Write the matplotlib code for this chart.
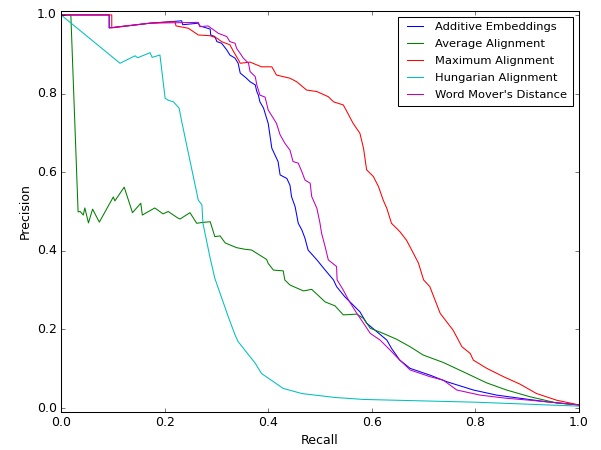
import matplotlib
matplotlib.use('Agg')
import matplotlib.pyplot as plt

# Additive Embeddings
add_recall = [0.0, 0.093, 0.093, 0.172, 0.233, 0.235, 0.265, 0.268, 0.288, 0.289, 0.297, 0.301,
              0.31, 0.32, 0.326, 0.336, 0.342, 0.346, 0.358, 0.365, 0.375, 0.378, 0.381, 0.384,
              0.391, 0.397, 0.4, 0.407, 0.413, 0.419, 0.423, 0.436, 0.442, 0.445, 0.452, 0.458,
              0.465, 0.471, 0.477, 0.494, 0.51, 0.526, 0.532, 0.548, 0.561, 0.577, 0.59, 0.629,
              0.638, 0.654, 0.674, 0.712, 0.745, 0.796, 0.841, 0.886, 0.938, 1.0]
add_prec = [1.0, 1.0, 0.967, 0.979, 0.985, 0.975, 0.979, 0.972, 0.964, 0.949, 0.945, 0.932,
            0.928, 0.911, 0.898, 0.89, 0.877, 0.852, 0.839, 0.83, 0.822, 0.805, 0.796, 0.779,
            0.763, 0.737, 0.724, 0.661, 0.644, 0.627, 0.593, 0.584, 0.567, 0.538, 0.512, 0.47,
            0.453, 0.432, 0.402, 0.377, 0.351, 0.326, 0.309, 0.283, 0.266, 0.245, 0.216, 0.173,
            0.152, 0.122, 0.101, 0.084, 0.067, 0.046, 0.033, 0.025, 0.016, 0.008]

# Average Alignment
avg_recall = [0.0, 0.019, 0.033, 0.037, 0.043, 0.046, 0.053, 0.061, 0.074, 0.101, 0.104, 0.122,
              0.138, 0.154, 0.157, 0.181, 0.197, 0.207, 0.226, 0.23, 0.249, 0.262, 0.272, 0.288,
              0.297, 0.307, 0.317, 0.339, 0.355, 0.368, 0.397, 0.4, 0.41, 0.429, 0.432, 0.442,
              0.468, 0.484, 0.51, 0.529, 0.545, 0.571, 0.584, 0.597, 0.622, 0.648, 0.674, 0.699,
              0.738, 0.777, 0.822, 0.86, 0.905, 0.957, 1.0]
avg_prec = [1.0, 1.0, 0.499, 0.5, 0.491, 0.509, 0.471, 0.506, 0.473, 0.537, 0.527, 0.562,
            0.497, 0.521, 0.491, 0.509, 0.494, 0.5, 0.483, 0.481, 0.497, 0.47, 0.472, 0.474,
            0.436, 0.438, 0.42, 0.408, 0.404, 0.402, 0.378, 0.368, 0.351, 0.349, 0.326, 0.313,
            0.298, 0.302, 0.27, 0.26, 0.237, 0.239, 0.228, 0.203, 0.19, 0.175, 0.156, 0.135,
            0.116, 0.092, 0.064, 0.046, 0.029, 0.013, 0.008]

# Maximum Alignment
max_recall = [0.0, 0.098, 0.098, 0.172, 0.22, 0.222, 0.246, 0.265, 0.288, 0.301, 0.31, 0.326,
              0.333, 0.342, 0.346, 0.365, 0.387, 0.407, 0.416, 0.442, 0.455, 0.474, 0.494, 0.516,
              0.526, 0.545, 0.552, 0.564, 0.577, 0.584, 0.59, 0.603, 0.613, 0.622, 0.629, 0.638,
              0.654, 0.667, 0.677, 0.69, 0.7, 0.712, 0.732, 0.757, 0.774, 0.79, 0.796, 0.822,
              0.854, 0.886, 0.918, 0.957, 1.0]
max_prec = [1.0, 1.0, 0.967, 0.979, 0.983, 0.972, 0.966, 0.949, 0.947, 0.941, 0.932, 0.924,
            0.907, 0.887, 0.877, 0.88, 0.868, 0.868, 0.847, 0.839, 0.83, 0.809, 0.805, 0.792,
            0.779, 0.771, 0.754, 0.724, 0.699, 0.661, 0.606, 0.589, 0.563, 0.529, 0.508, 0.47,
            0.449, 0.427, 0.402, 0.369, 0.326, 0.309, 0.241, 0.198, 0.156, 0.139, 0.122, 0.101,
            0.08, 0.061, 0.037, 0.02, 0.008]

# Hungarian Alignment
hun_recall = [0.0, 0.114, 0.143, 0.148, 0.172, 0.176, 0.191, 0.201, 0.207, 0.217, 0.228, 0.233,
              0.265, 0.272, 0.274, 0.288, 0.297, 0.323, 0.336, 0.342, 0.375, 0.387, 0.429, 0.465,
              0.529, 0.584, 0.8, 1.0]
hun_prec = [1.0, 0.877, 0.896, 0.891, 0.904, 0.892, 0.898, 0.788, 0.783, 0.779, 0.763, 0.729,
            0.529, 0.517, 0.47, 0.381, 0.33, 0.232, 0.186, 0.169, 0.114, 0.088, 0.05, 0.037,
            0.027, 0.022, 0.015, 0.005]

# Word Mover's Distance
wmd_recall = [0.0, 0.093, 0.093, 0.172, 0.265, 0.268, 0.284, 0.304, 0.32, 0.326, 0.336, 0.339,
              0.346, 0.352, 0.362, 0.365, 0.375, 0.378, 0.384, 0.394, 0.4, 0.41, 0.416, 0.423,
              0.432, 0.442, 0.448, 0.458, 0.465, 0.471, 0.481, 0.484, 0.494, 0.5, 0.503, 0.51,
              0.516, 0.532, 0.533, 0.545, 0.555, 0.571, 0.584, 0.597, 0.616, 0.635, 0.651, 0.674,
              0.712, 0.738, 0.764, 0.809, 0.86, 0.905, 1.0]
wmd_prec = [1.0, 1.0, 0.967, 0.979, 0.981, 0.97, 0.972, 0.953, 0.945, 0.932, 0.928, 0.915,
            0.902, 0.89, 0.877, 0.856, 0.843, 0.822, 0.796, 0.791, 0.758, 0.737, 0.724, 0.695,
            0.674, 0.656, 0.627, 0.623, 0.601, 0.58, 0.572, 0.538, 0.508, 0.47, 0.445, 0.41,
            0.377, 0.36, 0.326, 0.3, 0.275, 0.241, 0.216, 0.19, 0.173, 0.148, 0.126, 0.097,
            0.08, 0.071, 0.046, 0.033, 0.025, 0.02, 0.008]

plt.style.use('classic')
fig = plt.figure(figsize=(601 / 75, 450 / 75), dpi=75)
fig.subplots_adjust(left=0.1015, right=0.9634, bottom=0.0844, top=0.9756)
ax = fig.add_subplot(111)

ax.plot(add_recall, add_prec, color='b', label='Additive Embeddings')
ax.plot(avg_recall, avg_prec, color='g', label='Average Alignment')
ax.plot(max_recall, max_prec, color='r', label='Maximum Alignment')
ax.plot(hun_recall, hun_prec, color='c', label='Hungarian Alignment')
ax.plot(wmd_recall, wmd_prec, color='m', label="Word Mover's Distance")

ax.set_xlim(0, 1)
ax.set_ylim(-0.01, 1.01)
ax.set_xticks([0.0, 0.2, 0.4, 0.6, 0.8, 1.0])
ax.set_yticks([0.0, 0.2, 0.4, 0.6, 0.8, 1.0])
ax.set_xlabel('Recall')
ax.set_ylabel('Precision')
ax.legend(loc='upper right', fontsize=11, labelspacing=0.6, borderpad=0.5)

fig.savefig('out.png', dpi=75)
